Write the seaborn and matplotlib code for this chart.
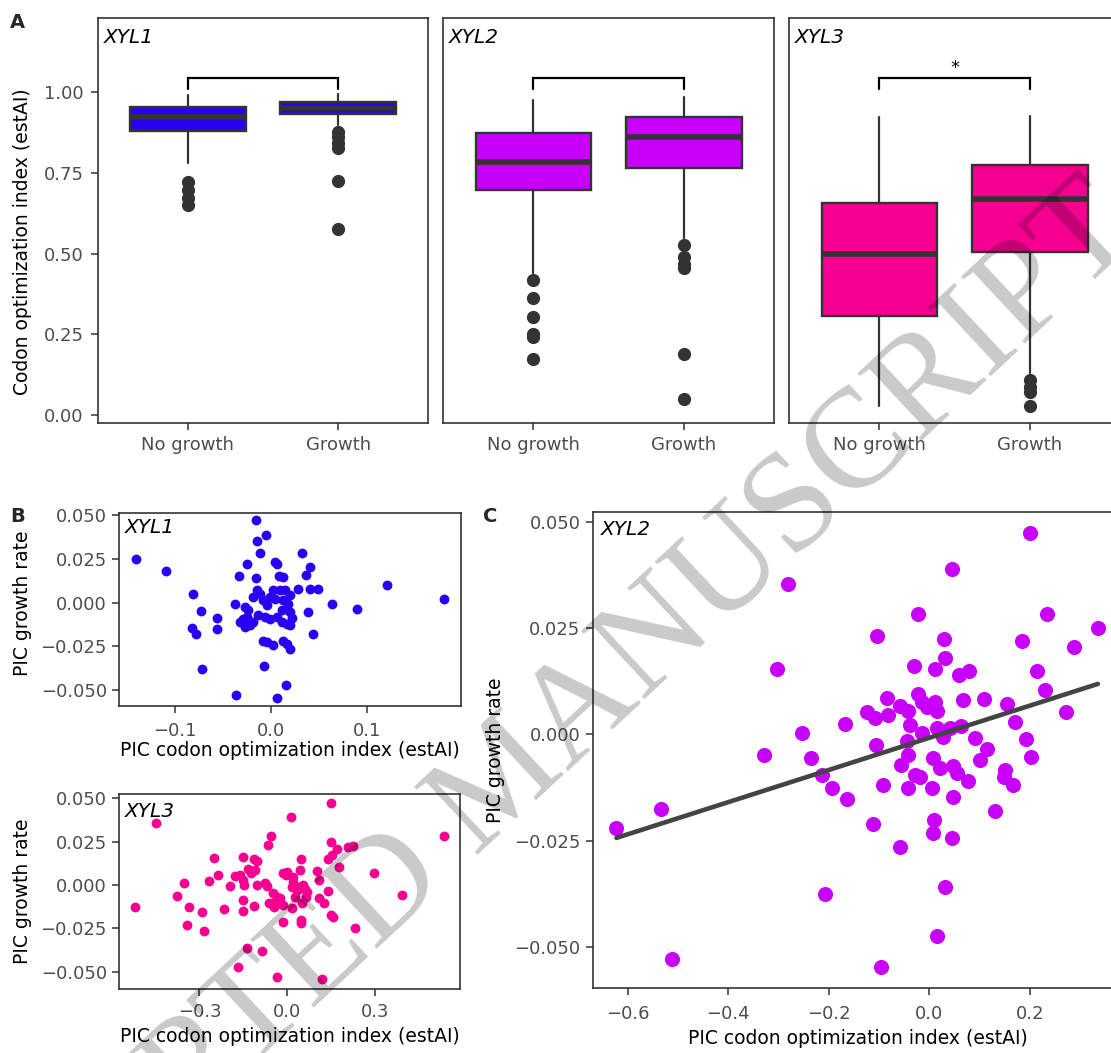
import numpy as np
import pandas as pd
import matplotlib
matplotlib.use("Agg")
import matplotlib.pyplot as plt
import seaborn as sns

# ---------------- data ----------------
genes = ["XYL1", "XYL2", "XYL3"]
groups = ["No growth", "Growth"]
gene_colors = {"XYL1": "#2A00F2", "XYL2": "#C800FA", "XYL3": "#F50090"}

# box statistics (estAI) per gene: [No growth, Growth]
box_whislo = {"XYL1": [0.780, 0.898], "XYL2": [0.440, 0.547], "XYL3": [0.028, 0.130]}
box_q1 = {"XYL1": [0.879, 0.934], "XYL2": [0.697, 0.766], "XYL3": [0.306, 0.506]}
box_med = {"XYL1": [0.924, 0.951], "XYL2": [0.784, 0.860], "XYL3": [0.500, 0.668]}
box_q3 = {"XYL1": [0.953, 0.970], "XYL2": [0.874, 0.922], "XYL3": [0.657, 0.776]}
box_whishi = {"XYL1": [0.991, 0.994], "XYL2": [0.975, 0.985], "XYL3": [0.922, 0.927]}
box_fliers = {
    "XYL1": [[0.722, 0.697, 0.671, 0.650], [0.877, 0.862, 0.842, 0.826, 0.725, 0.576]],
    "XYL2": [[0.418, 0.363, 0.304, 0.250, 0.242, 0.173], [0.528, 0.488, 0.467, 0.456, 0.188, 0.050]],
    "XYL3": [[], [0.108, 0.088, 0.072, 0.029]],
}
signif = {"XYL1": "", "XYL2": "", "XYL3": "*"}

# PIC scatter data
xyl1_pic_x = [-0.141, -0.110, -0.081, -0.0727, -0.0828, -0.078, -0.0567, -0.056, -0.0724, -0.0362,
              -0.038, -0.033, -0.0254, -0.016, -0.0056, -0.0146, -0.0115, -0.0157, 0.0045, 0.006,
              0.0087, 0.0122, 0.032, 0.041, 0.0365, 0.0407, 0.0494, 0.0282, 0.039, 0.0442,
              0.0633, 0.0894, 0.1207, 0.181, -0.008, -0.0045, 0.0017, 0.0122, 0.017, 0.0198,
              0.0157, 0.0066, -0.007, -0.027, -0.0237, -0.0254, -0.027, -0.027, -0.022, -0.0184,
              -0.0184, -0.015, -0.0115, -0.008, -0.0045, -0.0132, -0.0063, -0.001, 0.006, 0.0111,
              0.0163, 0.0198, 0.0216, 0.0198, 0.018, 0.0198, 0.0146, 0.0094, 0.0024, -0.001,
              0.0042, 0.0129, 0.0111, -0.032, -0.029]
xyl1_pic_y = [0.0249, 0.0178, 0.005, -0.0048, -0.0145, -0.0178, -0.0086, -0.0151, -0.0379, -0.0528,
              -0.0008, 0.0151, 0.0218, 0.0472, 0.0386, 0.0352, 0.0281, 0.0138, 0.0231, 0.022,
              0.0151, 0.0147, 0.0281, 0.0205, 0.0159, 0.0075, 0.008, 0.0075, -0.0054, -0.0182,
              -0.0006, -0.0038, 0.0099, 0.0023, -0.022, -0.0226, -0.0245, -0.022, -0.0235, -0.0264,
              -0.047, -0.0547, -0.0363, -0.0025, -0.0044, -0.0082, -0.011, -0.014, -0.013, -0.011,
              0.0033, 0.007, 0.005, 0.0013, -0.0015, -0.0073, -0.0082, -0.0092, -0.0082, -0.011,
              -0.012, -0.013, -0.009, -0.0054, -0.0006, 0.0042, 0.0071, 0.0071, 0.0071, 0.0033,
              0.0023, 0.0013, -0.0044, -0.011, -0.0092]

xyl3_pic_x = [-0.520, -0.450, -0.376, -0.352, -0.337, -0.341, -0.293, -0.284, -0.268, -0.251,
              -0.236, -0.216, -0.196, -0.179, -0.153, -0.162, -0.150, -0.148, -0.153, -0.150,
              -0.133, -0.125, -0.114, -0.105, -0.110, -0.114, -0.105, -0.136, -0.085, -0.167,
              -0.071, -0.076, -0.065, -0.054, -0.062, -0.048, -0.036, -0.042, -0.031, -0.045,
              -0.014, -0.016, -0.036, -0.025, -0.016, -0.006, 0.000, 0.011, 0.015, 0.018,
              0.017, 0.020, 0.026, 0.032, 0.041, 0.043, 0.046, 0.046, 0.047, 0.049,
              0.055, 0.060, 0.064, 0.066, 0.103, 0.109, 0.109, 0.117, 0.125, 0.140,
              0.148, 0.148, 0.140, 0.151, 0.171, 0.178, 0.149, 0.157, 0.208, 0.223,
              0.231, 0.296, 0.393, 0.536]
xyl3_pic_y = [-0.0129, 0.0355, -0.0061, 0.0013, -0.0129, -0.0230, -0.0154, -0.0263, 0.0025, 0.0154,
              0.0056, -0.0136, -0.0006, 0.0052, 0.0159, 0.0058, 0.0029, 0.0000, -0.0086, -0.0148,
              0.0090, 0.0067, 0.0150, 0.0138, 0.0086, -0.0121, 0.0000, -0.0361, -0.0378, -0.0474,
              -0.0006, 0.0013, 0.0230, 0.0282, -0.0102, -0.0048, -0.0067, -0.0096, -0.0106, -0.0125,
              -0.0115, -0.0215, -0.0528, -0.0077, 0.0071, 0.0058, 0.0077, 0.0390, -0.0010, 0.0019,
              -0.0134, 0.0048, -0.0067, -0.0029, -0.0010, 0.0086, 0.0148, -0.0202, -0.0221, -0.0106,
              0.0000, -0.0025, -0.0071, -0.0038, 0.0081, 0.0029, -0.0077, -0.0543, -0.0102, -0.0033,
              0.0474, 0.0250, 0.0150, 0.0173, 0.0205, 0.0106, -0.0173, -0.0182, 0.0221, 0.0225,
              -0.0246, 0.0067, -0.0058, 0.0282]

xyl2_pic_x = [0.200, 0.0445, -0.023, 0.233, 0.335, -0.1046, 0.029, 0.184, 0.288, 0.031,
              -0.030, 0.0107, 0.059, 0.079, 0.2147, 0.2306, 0.272, -0.085, -0.022, -0.015,
              0.011, -0.005, 0.0147, 0.0676, 0.109, 0.154, 0.170, -0.058, -0.042, -0.124,
              -0.108, -0.0815, -0.1676, -0.038, -0.015, 0.0147, 0.041, 0.0624, 0.028, 0.091,
              0.114, 0.192, 0.2015, 0.1008, -0.106, -0.045, -0.042, -0.057, 0.008, 0.0213,
              0.0477, 0.0557, -0.0284, -0.0185, 0.0775, 0.1505, 0.1485, 0.167, -0.0914, -0.0417,
              0.0048, -0.280, -0.303, -0.2525, -0.3286, -0.2352, -0.2127, -0.193, -0.163, -0.534,
              -0.622, -0.111, -0.058, 0.0097, 0.0077, 0.0447, 0.048, 0.1306, 0.032, -0.208,
              0.0147, -0.511, -0.096]
xyl2_pic_y = [0.0474, 0.0389, 0.0282, 0.0283, 0.0251, 0.0232, 0.0223, 0.0220, 0.0205, 0.0180,
              0.0160, 0.0153, 0.0139, 0.0150, 0.0150, 0.0104, 0.0052, 0.0085, 0.0095, 0.0077,
              0.0077, 0.0065, 0.0056, 0.0081, 0.0082, 0.0071, 0.0030, 0.0067, 0.0055, 0.0053,
              0.0038, 0.0045, 0.0024, 0.0022, 0.0002, 0.0016, 0.0014, 0.0020, -0.0006, -0.0009,
              -0.0035, -0.0012, -0.0053, -0.0060, -0.0025, -0.0015, -0.0049, -0.0072, -0.0055, -0.0080,
              -0.0075, -0.0090, -0.0096, -0.0101, -0.0109, -0.0084, -0.0100, -0.0119, -0.0119, -0.0127,
              -0.0125, 0.0353, 0.0154, 0.0004, -0.0049, -0.0056, -0.0096, -0.0126, -0.0152, -0.0176,
              -0.0221, -0.0211, -0.0264, -0.0201, -0.0233, -0.0243, -0.0147, -0.0180, -0.0358, -0.0375,
              -0.0473, -0.0527, -0.0548]

# ---------------- style ----------------
sns.set_theme(style="white")
plt.rcParams["font.family"] = ["DejaVu Sans"]
plt.rcParams["axes.unicode_minus"] = True

TICK_FS = 13
LAB_FS = 13.5
GENE_FS = 14.5
FRAME = "#333333"
TICKLAB = "#4D4D4D"

W, H = 1111, 1053
fig = plt.figure(figsize=(W / 100, H / 100), dpi=100)


def px_axes(left, top, right, bottom):
    ax = fig.add_axes([left / W, 1 - bottom / H, (right - left) / W, (bottom - top) / H])
    ax._px = (left, top, right, bottom)
    return ax


def style_axes(ax, xpad, ypad):
    for s in ax.spines.values():
        s.set_visible(True)
        s.set_color(FRAME)
        s.set_linewidth(1.2)
    ax.tick_params(axis="both", which="both", length=4.7, width=1.1, color=FRAME,
                   labelcolor=TICKLAB, labelsize=TICK_FS, direction="out",
                   bottom=True, left=True)
    ax.tick_params(axis="x", pad=xpad)
    ax.tick_params(axis="y", pad=ypad)
    ax.grid(False)
    ax.set_facecolor("white")


def place_ylabel(ax, text, right_px, center_px):
    l, t, r, b = ax._px
    ax.set_ylabel(text, fontsize=LAB_FS, color="black")
    ax.yaxis.set_label_coords((right_px - l) / (r - l), (b - center_px) / (b - t))


def place_xlabel(ax, text, top_px):
    l, t, r, b = ax._px
    ax.set_xlabel(text, fontsize=LAB_FS, color="black")
    ax.xaxis.set_label_coords(0.5, (b - top_px) / (b - t))


def gene_label(ax, name, dx=6, dy=-9):
    ax.annotate(name, (0, 1), xycoords="axes fraction", xytext=(dx, dy),
                textcoords="offset pixels", ha="left", va="top", fontsize=GENE_FS,
                style="italic", color="black")


# ---------------- panel A: boxplots ----------------
box_lefts = [97.7, 443.3, 789.3]
for i, g in enumerate(genes):
    ax = px_axes(box_lefts[i], 18, box_lefts[i] + 330.5, 423)
    style_axes(ax, xpad=4.8, ypad=5.3)
    stats = []
    for j, grp in enumerate(groups):
        stats.append(dict(label=grp, whislo=box_whislo[g][j], q1=box_q1[g][j],
                          med=box_med[g][j], q3=box_q3[g][j], whishi=box_whishi[g][j],
                          fliers=np.array(box_fliers[g][j])))
    ax.bxp(stats, positions=[0, 1], widths=0.77, patch_artist=True, showcaps=False,
           boxprops=dict(facecolor=gene_colors[g], edgecolor=FRAME, linewidth=1.7),
           medianprops=dict(color=FRAME, linewidth=4.0, solid_capstyle="butt"),
           whiskerprops=dict(color=FRAME, linewidth=1.6),
           flierprops=dict(marker="o", markerfacecolor=FRAME, markeredgecolor=FRAME,
                           markersize=8.5, linestyle="none"))
    # significance bracket
    ax.plot([0, 0, 1, 1], [1.010, 1.043, 1.043, 1.010], color="black", lw=1.6,
            solid_joinstyle="miter")
    if signif[g]:
        ax.text(0.5, 1.048, signif[g], ha="center", va="bottom", fontsize=13, color="black")
    ax.set_xlim(-0.6, 1.6)
    ax.set_ylim(-0.025, 1.23)
    ax.set_xticks([0, 1])
    ax.set_xticklabels(groups)
    ax.set_yticks([0, 0.25, 0.5, 0.75, 1.0])
    if i == 0:
        ax.set_yticklabels(["0.00", "0.25", "0.50", "0.75", "1.00"])
        place_ylabel(ax, "Codon optimization index (estAI)", 31.7, 242)
    else:
        ax.tick_params(axis="y", left=False, labelleft=False)
    gene_label(ax, g, dx=6, dy=-10)

ytick_vals = [-0.05, -0.025, 0.0, 0.025, 0.05]
ytick_labs = ["\u22120.050", "\u22120.025", "0.000", "0.025", "0.050"]


def fmt1(v):
    s = "%.1f" % v
    return s.replace("-", "\u2212") if v < -1e-9 else s.replace("-", "")


XLAB = "PIC codon optimization index (estAI)"
YLAB = "PIC growth rate"

# ---------------- panel B: XYL1 ----------------
axb1 = px_axes(119, 513.3, 460.7, 706)
style_axes(axb1, xpad=7.0, ypad=4.0)
sns.scatterplot(x=xyl1_pic_x, y=xyl1_pic_y, ax=axb1, color=gene_colors["XYL1"], s=50,
                linewidth=0, legend=False)
axb1.set_xlim(-0.1587, 0.198)
axb1.set_ylim(-0.0592, 0.0511)
axb1.set_xticks([-0.1, 0.0, 0.1])
axb1.set_xticklabels([fmt1(v) for v in [-0.1, 0.0, 0.1]])
axb1.set_yticks(ytick_vals)
axb1.set_yticklabels(ytick_labs)
place_xlabel(axb1, XLAB, 741.5)
place_ylabel(axb1, YLAB, 31.7, 603)
gene_label(axb1, "XYL1", dx=6, dy=-5)

# ---------------- panel B: XYL3 ----------------
axb3 = px_axes(119, 794.3, 460, 988.7)
style_axes(axb3, xpad=5.5, ypad=4.0)
sns.scatterplot(x=xyl3_pic_x, y=xyl3_pic_y, ax=axb3, color=gene_colors["XYL3"], s=50,
                linewidth=0, legend=False)
axb3.set_xlim(-0.575, 0.590)
axb3.set_ylim(-0.0597, 0.0522)
axb3.set_xticks([-0.3, 0.0, 0.3])
axb3.set_xticklabels([fmt1(v) for v in [-0.3, 0.0, 0.3]])
axb3.set_yticks(ytick_vals)
axb3.set_yticklabels(ytick_labs)
place_xlabel(axb3, XLAB, 1026.5)
place_ylabel(axb3, YLAB, 31.7, 891.5)
gene_label(axb3, "XYL3", dx=6, dy=-8)

# ---------------- panel C: XYL2 with regression ----------------
axc = px_axes(593.3, 512.3, 1122, 988.3)
style_axes(axc, xpad=7.3, ypad=4.5)
sns.regplot(x=np.array(xyl2_pic_x), y=np.array(xyl2_pic_y), ax=axc, ci=None,
            scatter_kws=dict(color=gene_colors["XYL2"], s=118, linewidths=0, alpha=1),
            line_kws=dict(color="#444444", lw=3.3))
axc.set_xlim(-0.668, 0.383)
axc.set_ylim(-0.0597, 0.0522)
axc.set_xticks([-0.6, -0.4, -0.2, 0.0, 0.2])
axc.set_xticklabels([fmt1(v) for v in [-0.6, -0.4, -0.2, 0.0, 0.2]])
axc.set_yticks(ytick_vals)
axc.set_yticklabels(ytick_labs)
place_xlabel(axc, XLAB, 1028.5)
place_ylabel(axc, YLAB, 505, 750)
gene_label(axc, "XYL2", dx=8, dy=-8)

# ---------------- panel letters ----------------
fig.text(17 / W, 1 - 22 / H, "A", fontsize=14, fontweight="bold", ha="center", va="center")
fig.text(18 / W, 1 - 517 / H, "B", fontsize=14, fontweight="bold", ha="center", va="center")
fig.text(490 / W, 1 - 517 / H, "C", fontsize=14, fontweight="bold", ha="center", va="center")

# ---------------- watermark ----------------
fig.text(505 / W, 1 - 782 / H, "ACCEPTED MANUSCRIPT", fontsize=102,
         family=["Liberation Serif", "DejaVu Serif"], color="black", alpha=0.21,
         rotation=43, rotation_mode="anchor", ha="center", va="center", zorder=20)

fig.savefig("out.png", dpi=100, facecolor="white")
